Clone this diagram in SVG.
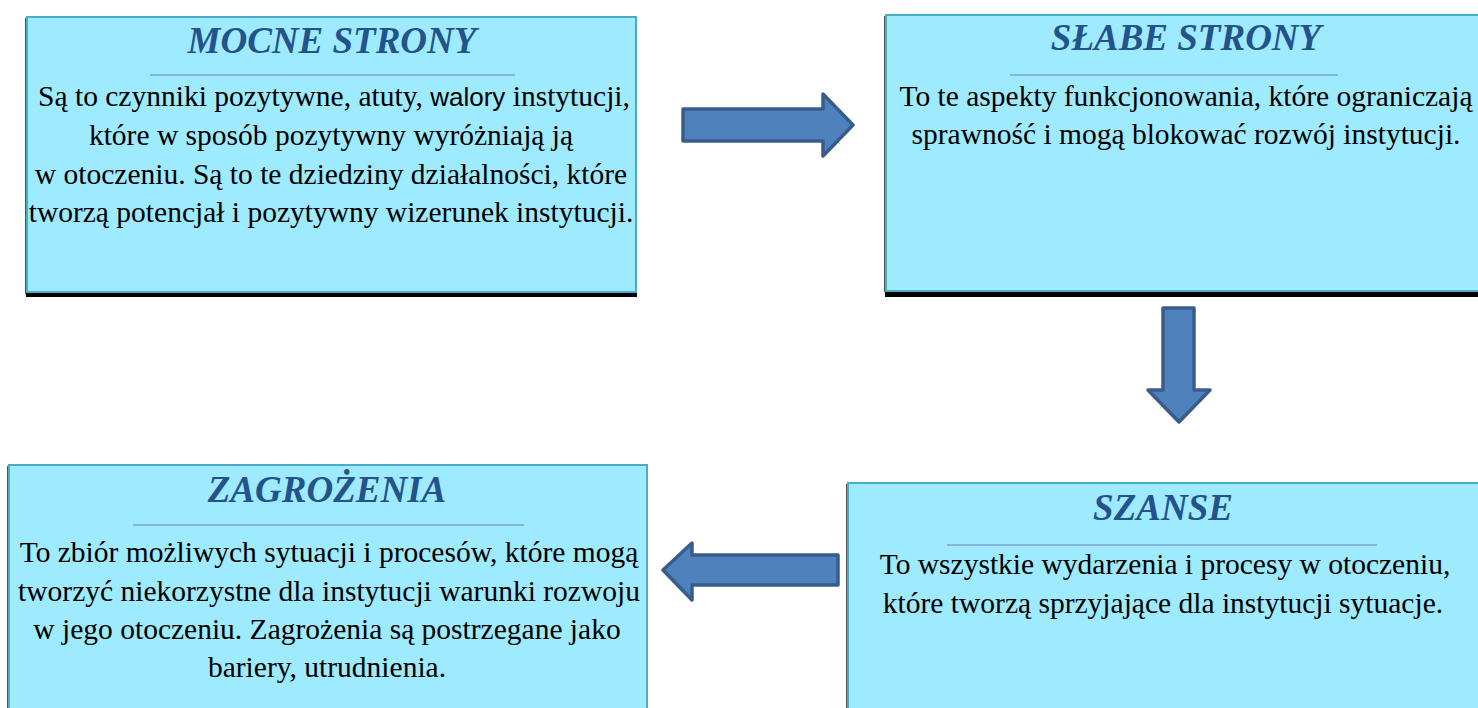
<svg xmlns="http://www.w3.org/2000/svg" width="1478" height="708" viewBox="0 0 1478 708">
<defs>
<style>
.box{fill:#9EEAFE;stroke:#4BACC6;stroke-width:2}
.shadow{fill:#000}
.sideshadow{fill:#555}
.title{font-family:"Liberation Serif",serif;font-weight:bold;font-style:italic;font-size:37px;fill:#24528A;text-anchor:middle}
.body{font-family:"Liberation Serif",serif;font-size:29.5px;fill:#000;text-anchor:middle}
.sans{font-family:"Liberation Sans",sans-serif;font-size:26px}
.rule{stroke:#7FA3D6;stroke-width:1.5}
.arrow{fill:#4F81BD;stroke:#385D8A;stroke-width:3.5;stroke-linejoin:round}
</style>
</defs>
<rect width="1478" height="708" fill="#fff"/>

<g id="mocne-strony">
<rect class="sideshadow" x="25" y="18" width="2" height="276"/>
<rect class="shadow" x="26" y="292" width="611" height="5"/>
<rect class="box" x="27" y="17" width="609" height="275"/>
<text class="title" x="332" y="53">MOCNE STRONY</text>
<line class="rule" x1="150" y1="75" x2="515" y2="75"/>
<text class="body" x="334" y="106">Są to czynniki pozytywne, atuty, <tspan class="sans">walory</tspan> instytucji,</text>
<text class="body" x="331" y="145">które w sposób pozytywny wyróżniają ją</text>
<text class="body" x="331" y="184">w otoczeniu. Są to te dziedziny działalności, które</text>
<text class="body" x="331" y="222">tworzą potencjał i pozytywny wizerunek instytucji.</text>
</g>

<g id="slabe-strony">
<rect class="sideshadow" x="884" y="16" width="2" height="276"/>
<rect class="shadow" x="885" y="291" width="593" height="6"/>
<rect class="box" x="886" y="15" width="594" height="276"/>
<text class="title" x="1186" y="50">SŁABE STRONY</text>
<line class="rule" x1="1010" y1="75" x2="1338" y2="75"/>
<text class="body" x="1186" y="106">To te aspekty funkcjonowania, które ograniczają</text>
<text class="body" x="1186" y="144">sprawność i mogą blokować rozwój instytucji.</text>
</g>

<g id="zagrozenia">
<rect class="sideshadow" x="7" y="466" width="2" height="244"/>
<rect class="box" x="9" y="465" width="638" height="246"/>
<text class="title" x="327" y="502">ZAGROŻENIA</text>
<line class="rule" x1="133" y1="525" x2="524" y2="525"/>
<text class="body" x="329" y="562">To zbiór możliwych sytuacji i procesów, które mogą</text>
<text class="body" x="329" y="601">tworzyć niekorzystne dla instytucji warunki rozwoju</text>
<text class="body" x="327" y="639">w jego otoczeniu. Zagrożenia są postrzegane jako</text>
<text class="body" x="327" y="677">bariery, utrudnienia.</text>
</g>

<g id="szanse">
<rect class="sideshadow" x="846" y="484" width="2" height="226"/>
<rect class="box" x="848" y="483" width="632" height="228"/>
<text class="title" x="1163" y="520">SZANSE</text>
<line class="rule" x1="947" y1="545" x2="1377" y2="545"/>
<text class="body" x="1165" y="574">To wszystkie wydarzenia i procesy w otoczeniu,</text>
<text class="body" x="1163" y="613">które tworzą sprzyjające dla instytucji sytuacje.</text>
</g>

<g id="connectors">
<path class="arrow" d="M683,109 L823,109 L823,94 L853,125 L823,156 L823,141 L683,141 Z"/>
<path class="arrow" d="M1163,308 L1194,308 L1194,390 L1210,390 L1179,422 L1148,390 L1163,390 Z"/>
<path class="arrow" d="M838,555 L692,555 L692,543 L663,570 L692,600 L692,585 L838,585 Z"/>
</g>
</svg>
